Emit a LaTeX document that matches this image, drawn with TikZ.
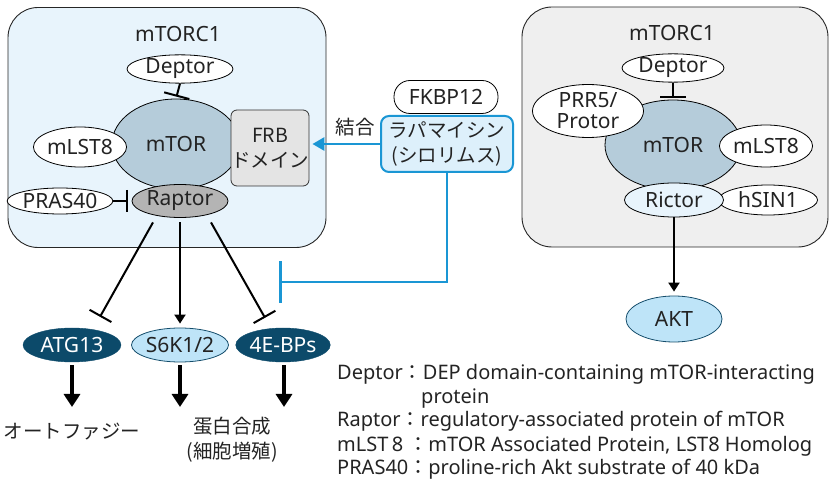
\documentclass[tikz,border=0pt]{standalone}
\usepackage{fontspec}
\setmainfont{Noto Sans}
\newfontfamily\jp{Noto Sans CJK JP}
\usetikzlibrary{arrows.meta,shapes.geometric,calc}

\definecolor{leftbg}{RGB}{232,244,252}
\definecolor{rightbg}{RGB}{239,239,239}
\definecolor{torfill}{RGB}{181,204,218}
\definecolor{rapfill}{RGB}{180,180,180}
\definecolor{frbfill}{RGB}{228,228,228}
\definecolor{darknode}{RGB}{12,74,106}
\definecolor{lightnode}{RGB}{190,228,248}
\definecolor{nodeedge}{RGB}{22,78,108}
\definecolor{rapabg}{RGB}{221,240,251}
\definecolor{rapablue}{RGB}{26,150,212}
\definecolor{txt}{RGB}{35,35,35}

\begin{document}
\begin{tikzpicture}[x=1pt,y=-1pt,
  font=\fontsize{21}{23}\selectfont, text=txt,
  complexbox/.style={draw=black!85, line width=0.9pt, rounded corners=30pt},
  prot/.style={ellipse, draw=black, line width=0.8pt, fill=white, inner sep=0pt, align=center},
  darkprot/.style={ellipse, draw=darknode, fill=darknode, text=white, inner sep=0pt},
  lightprot/.style={ellipse, draw=nodeedge, line width=0.8pt, fill=lightnode, inner sep=0pt},
  inhib/.style={line width=2pt, -{Bar[width=#1, line width=2pt]}},
  activ/.style={line width=2pt, -{Triangle[width=11pt, length=9pt]}},
  fatarrow/.style={line width=3.4pt, -{Triangle[width=16pt, length=13pt]}},
  legend/.style={anchor=base west, inner sep=0pt, font=\fontsize{20}{22}\selectfont},
  jptext/.style={font=\jp\fontsize{19.5}{25}\selectfont, inner sep=0pt, align=center}
]
\useasboundingbox (0,0) rectangle (831,481);

% ---------- mTORC1 (rapamycin sensitive) ----------
\node[complexbox, fill=leftbg, minimum width=318pt, minimum height=240pt] (c1) at (167,127.5) {};
\node[inner sep=0pt] (c1t) at (178,34) {mTORC1};
\node[prot, fill=torfill, minimum width=128pt, minimum height=90pt] (mtor1) at (176,144) {mTOR};
\node[draw=black!80, line width=0.8pt, fill=frbfill, rounded corners=6pt, minimum width=74pt,
      minimum height=76pt, inner sep=0pt, align=center, font=\jp\fontsize{19.5}{25}\selectfont]
      (frb) at (270,148) {FRB\\ドメイン};
\node[prot, minimum width=90pt, minimum height=40pt] (mlst1) at (80,147) {mLST8};
\node[prot, fill=rapfill, minimum width=96pt, minimum height=33pt] (rap) at (180,201) {Raptor};
\node[prot, minimum width=96pt, minimum height=26pt] (pras) at (60,201) {PRAS40};
\node[prot, minimum width=106pt, minimum height=27pt] (dep1) at (180,69) {Deptor};

\draw[inhib=26pt, shorten >=2pt] (dep1.south) -- (mtor1.north);
\draw[inhib=22pt, shorten >=4pt] (pras.east) -- (rap.west);

% ---------- downstream of mTORC1 ----------
\node[darkprot, minimum width=98pt, minimum height=34pt] (atg) at (72,345) {ATG13};
\node[lightprot, minimum width=97pt, minimum height=34pt] (s6k) at (180,345) {S6K1/2};
\node[darkprot, minimum width=94pt, minimum height=34pt] (ebp) at (283,345) {4E-BPs};

\draw[inhib=25pt] ($(rap.south)+(-27,4.5)$) -- ($(atg.north)+(28,-11)$);
\draw[activ] ($(rap.south)+(0,4.5)$) -- ($(s6k.north)+(0,-4)$);
\draw[inhib=25pt] ($(rap.south)+(31,4.5)$) -- ($(ebp.north)+(-18,-10)$);

\node[jptext] (auto) at (72,432) {オートファジー};
\node[jptext] (psyn) at (232,440) {蛋白合成\\(細胞増殖)};
\coordinate (e1) at (72,407);
\coordinate (e2) at (180,407);
\coordinate (e3) at (284,407);
\draw[fatarrow] ($(atg.south)+(0,3)$) -- (e1);
\draw[fatarrow] ($(s6k.south)+(0,3)$) -- (e2);
\draw[fatarrow] ($(ebp.south)+(1,3)$) -- (e3);

% ---------- rapamycin / FKBP12 ----------
\node[draw=black, line width=0.8pt, fill=white, rounded corners=16pt, minimum width=104pt,
      minimum height=33pt, inner sep=0pt] (fkbp) at (446,97) {FKBP12};
\node[draw=rapablue, line width=2pt, fill=rapabg, rounded corners=8pt, minimum width=132pt,
      minimum height=56pt, inner sep=0pt, align=center, font=\jp\fontsize{19.5}{25}\selectfont]
      (rapa) at (447,144) {ラパマイシン\\(シロリムス)};
\node[jptext] (bind) at (355,127) {結合};
\draw[rapablue, line width=2.7pt, -{Triangle[width=13pt, length=12pt]}, shorten >=3pt]
  (rapa.west) -- (frb.east |- rapa.west);
\coordinate (rbar) at (279,282);
\draw[rapablue, line width=2.7pt, -{Bar[width=42pt, line width=2.7pt]}] (rapa.south) |- (rbar);

% ---------- mTORC2 ----------
\node[complexbox, fill=rightbg, minimum width=306pt, minimum height=240pt] (c2) at (675,127) {};
\node[inner sep=0pt] (c2t) at (672,33) {mTORC1};
\node[prot, fill=torfill, minimum width=136pt, minimum height=90pt] (mtor2) at (673,145) {mTOR};
\node[prot, minimum width=111pt, minimum height=53pt, font=\fontsize{21}{21}\selectfont] (prr) at (588,111) {PRR5/\\Protor};
\node[prot, minimum width=89pt, minimum height=42pt] (mlst2) at (766,146) {mLST8};
\node[prot, minimum width=99pt, minimum height=30pt] (hsin) at (768,200) {hSIN1};
\node[prot, fill=leftbg, minimum width=99pt, minimum height=34pt] (ric) at (674,200) {Rictor};
\node[prot, minimum width=102pt, minimum height=27pt] (dep2) at (673,68) {Deptor};
\draw[inhib=26pt, shorten >=2pt] (dep2.south) -- (mtor2.north);

\node[lightprot, minimum width=96pt, minimum height=46pt] (akt) at (674,319) {AKT};
\draw[activ, shorten >=4pt] (ric.south) -- (akt.north);

% ---------- abbreviations ----------
\node[legend] (lg1) at (337,380) {Deptor{\jp ：}DEP domain-containing mTOR-interacting};
\node[legend] (lg1b) at (421,403) {protein};
\node[legend] (lg2) at (337,427) {Raptor{\jp ：}regulatory-associated protein of mTOR};
\node[legend] (lg3) at (337,451) {mLST\,8 {\jp ：}mTOR Associated Protein, LST8 Homolog};
\node[legend] (lg4) at (337,474.5) {PRAS40{\jp ：}proline-rich Akt substrate of 40 kDa};
\end{tikzpicture}
\end{document}
